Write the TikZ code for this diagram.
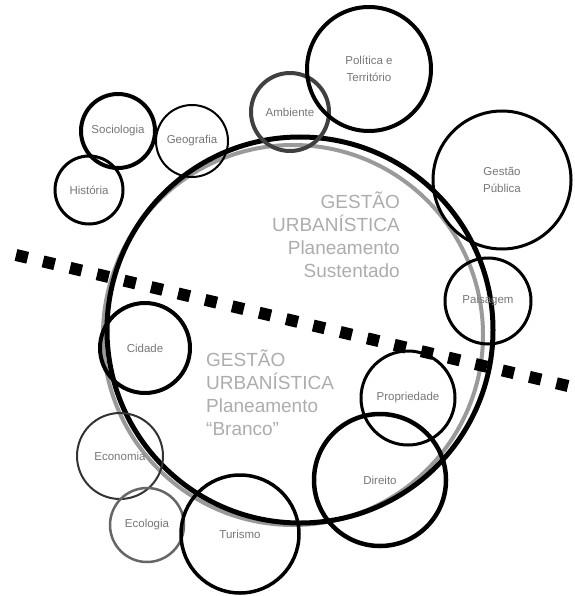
\documentclass[tikz,border=0pt]{standalone}
\usepackage{fontspec}
\setmainfont{Liberation Sans}
\newfontfamily\headfont{Liberation Sans}
\definecolor{txtgray}{HTML}{ADADAD}
\definecolor{lblgray}{HTML}{777777}
\definecolor{ringgray}{HTML}{9A9A9A}
\begin{document}
\begin{tikzpicture}[x=1pt,y=-1pt,
  ring/.style={circle,draw=black,inner sep=0pt,align=center,
     font=\fontsize{11.5}{17}\selectfont,text=lblgray},
  bigtext/.style={font=\headfont\fontsize{19}{23}\selectfont,text=txtgray,inner sep=0pt},
  dots/.style={line width=12pt,dash pattern=on 12pt off 15.77pt}]
\useasboundingbox[fill=white] (0,0) rectangle (574,596);
% main circles
\node[circle,draw=ringgray,line width=4pt,minimum size=380pt,inner sep=0pt] (grayring) at (293,335) {};
\node[circle,draw=black,line width=5pt,minimum size=386pt,inner sep=0pt] (mainring) at (300,330) {};
% small circles
\node[ring,line width=4pt,minimum size=74pt] (soc) at (118,131) {Sociologia};
\node[ring,line width=2pt,minimum size=72pt] (geo) at (192,141) {Geografia};
\node[ring,line width=3pt,minimum size=68pt] (his) at (89,190) {História};
\node[ring,line width=4pt,draw=black!75,minimum size=78pt] (amb) at (290,112) {Ambiente};
\node[ring,line width=4pt,minimum size=124pt] (pol) at (369,69) {Política e\\Território};
\node[ring,line width=3pt,minimum size=138pt] (gp) at (502,180) {Gestão\\Pública};
\node[ring,line width=3pt,minimum size=86pt] (pai) at (488,301) {Paisagem};
\node[ring,line width=4pt,minimum size=90pt] (cid) at (145,348) {Cidade};
\node[ring,line width=3pt,minimum size=94pt] (pro) at (408,398) {Propriedade};
\node[ring,line width=4.5pt,minimum size=132pt] (dir) at (380,480) {Direito};
\node[ring,line width=2pt,draw=black!80,minimum size=86pt] (eco) at (120,456) {Economia};
\node[ring,line width=2.5pt,draw=black!60,minimum size=74pt] (ecl) at (147,525) {Ecologia};
\node[ring,line width=3.5pt,minimum size=118pt] (tur) at (240,534) {Turismo};
% dotted divider
\coordinate (d1) at (16,255);
\coordinate (d2) at (568,386);
\draw[dots] (d1) -- (d2);
% texts
\node[bigtext,anchor=north east,align=right] (top) at (400,192) {GESTÃO\\URBANÍSTICA\\Planeamento\\Sustentado};
\node[bigtext,anchor=north west,align=left] (bot) at (206,350) {GESTÃO\\URBANÍSTICA\\Planeamento\\“Branco”};
\end{tikzpicture}
\end{document}
